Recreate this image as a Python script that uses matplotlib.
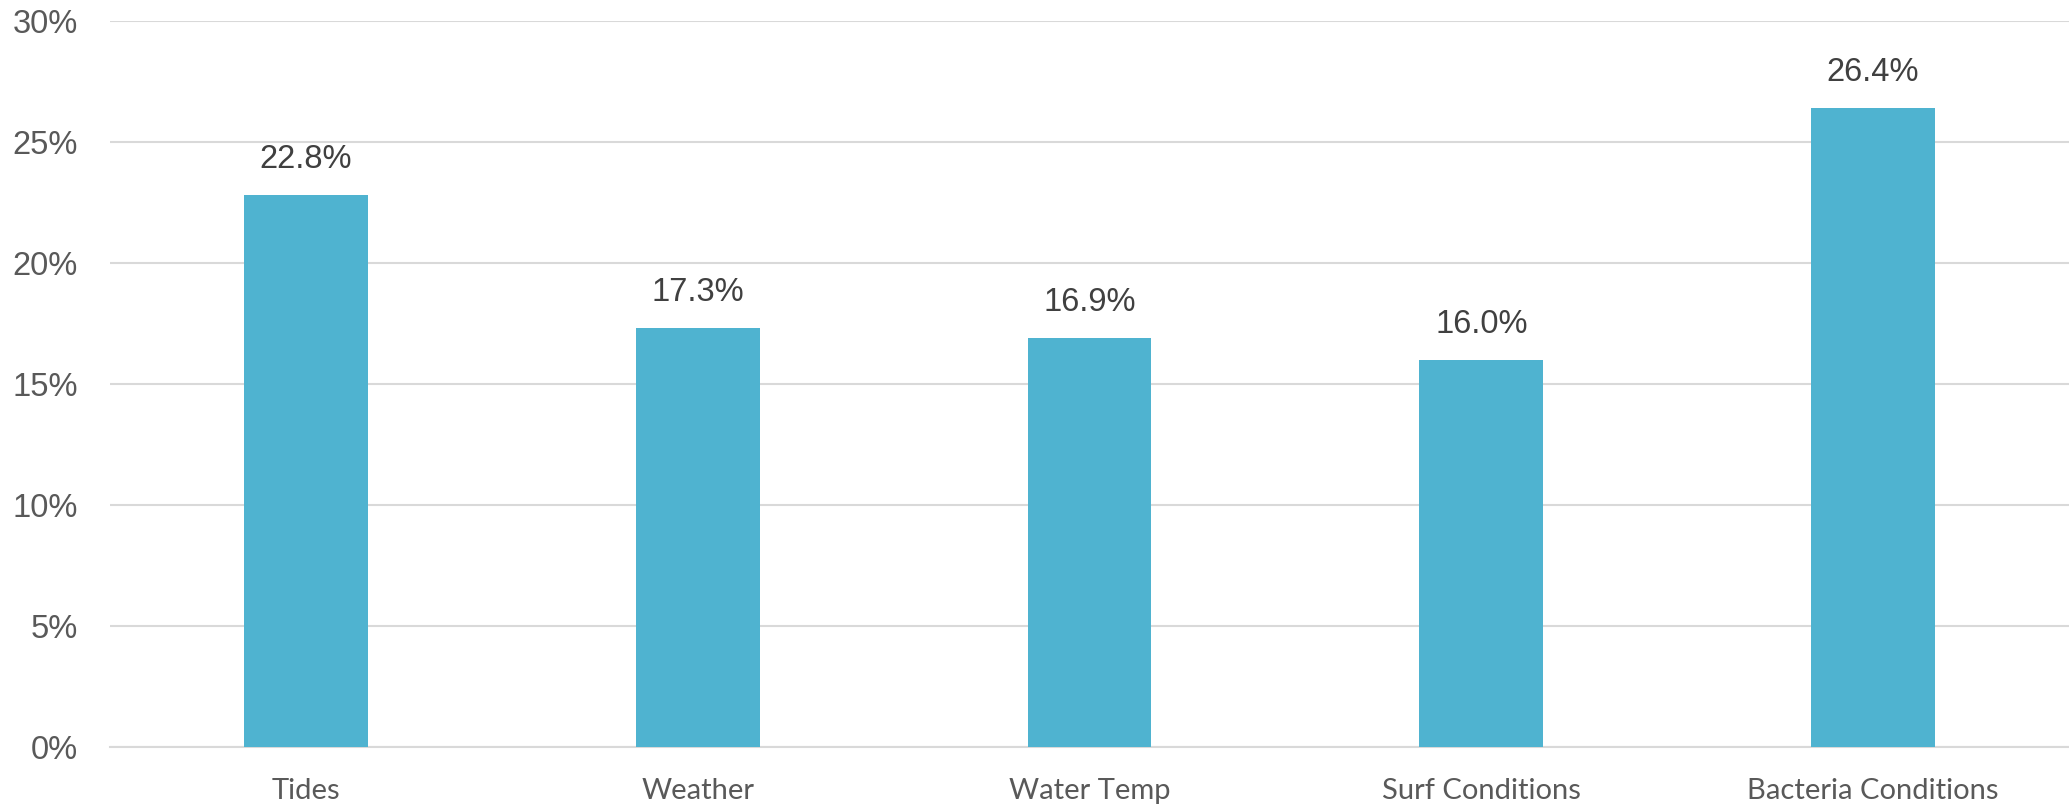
import matplotlib.pyplot as plt
from matplotlib.ticker import FuncFormatter, MultipleLocator

categories = ["Tides", "Weather", "Water Temp", "Surf Conditions", "Bacteria Conditions"]
shares = [22.8, 17.3, 16.9, 16.0, 26.4]

fig = plt.figure(figsize=(20.69, 8.06), dpi=100)
ax = fig.add_axes([110 / 2069, (806 - 747) / 806, (2069 - 110) / 2069, (747 - 21) / 806])

x = range(len(categories))
ax.bar(x, shares, width=0.316, color="#4FB3D0", zorder=3)

ax.set_xlim(-0.5, len(categories) - 0.5)
ax.set_ylim(0, 30)
ax.yaxis.set_major_locator(MultipleLocator(5))
ax.yaxis.set_major_formatter(FuncFormatter(lambda v, _: f"{v:.0f}%"))
ax.grid(axis="y", color="#d9d9d9", linewidth=1.5, zorder=0)

for side in ["top", "right", "left"]:
    ax.spines[side].set_visible(False)
ax.spines["bottom"].set_color("#d9d9d9")
ax.spines["bottom"].set_linewidth(1.5)

# pads are in points (dpi 100)
ax.tick_params(axis="y", length=0, pad=23, labelsize=23.5, labelcolor="#595959")
ax.tick_params(axis="x", length=0, pad=22)
for lab in ax.get_yticklabels():
    lab.set_fontfamily("Liberation Sans")

ax.set_xticks(list(x))
ax.set_xticklabels(categories, fontsize=21, color="#595959", fontfamily="Lato")

# value labels above bars
for xi, v in zip(x, shares):
    ax.annotate(f"{v:.1f}%", (xi, v), xytext=(0, 20), textcoords="offset pixels",
                ha="center", va="bottom", fontsize=23.5, color="#404040",
                fontfamily="Liberation Sans")

fig.savefig("out.png", dpi=100)
